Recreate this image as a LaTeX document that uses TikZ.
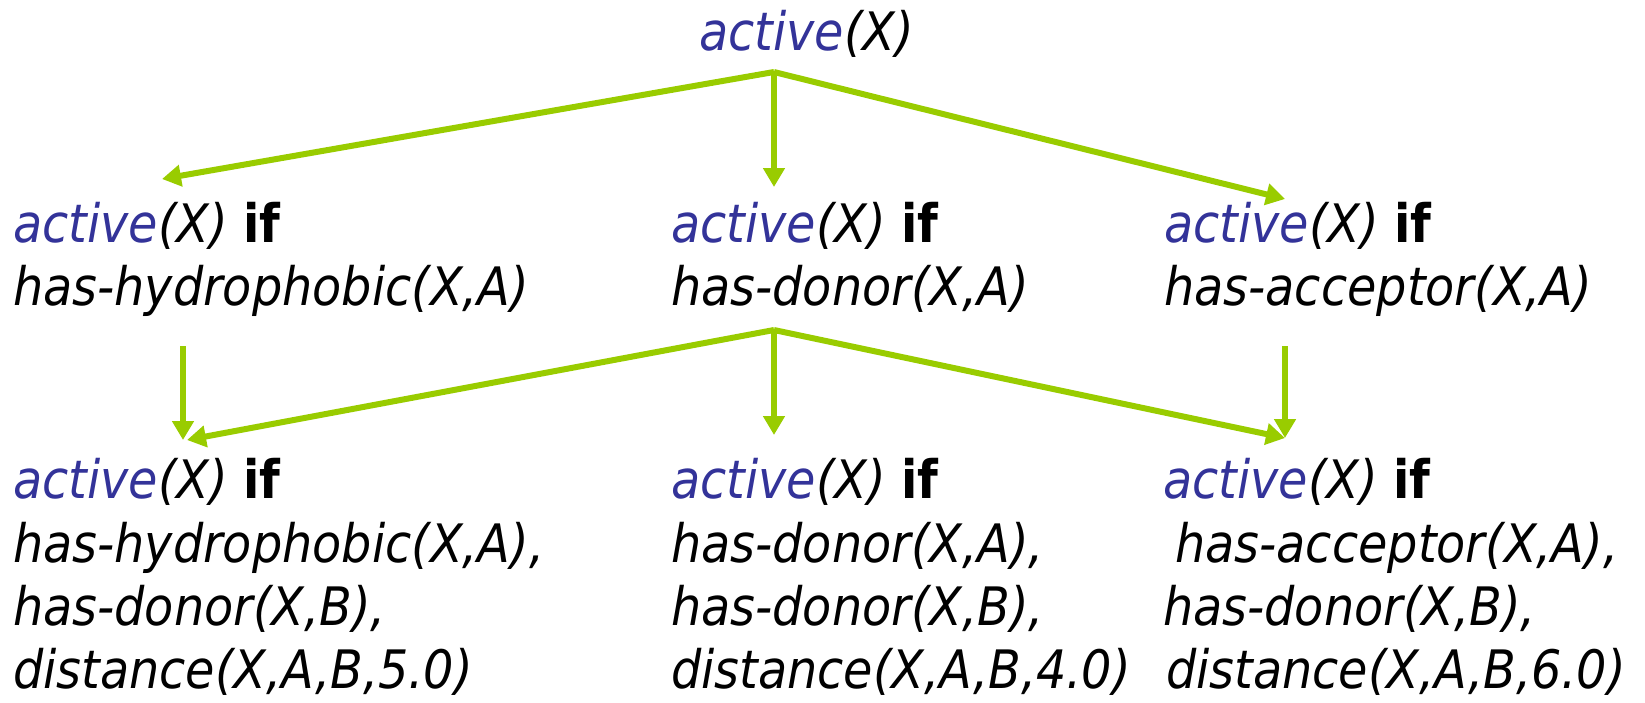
\documentclass[tikz,border=0pt]{standalone}
\usepackage{fontspec}
\setmainfont{DejaVu Sans Condensed}
\usetikzlibrary{arrows.meta}
\definecolor{pblue}{HTML}{333399}
\definecolor{pgreen}{HTML}{99CC00}
\newcommand\actx{{\color{pblue}active}(X)}
\newcommand\actif{\actx{} {\upshape\bfseries if}}
\begin{document}
\begin{tikzpicture}[x=1pt,y=-1pt,
  txt/.style={anchor=base west,inner sep=0pt,font=\fontsize{53}{60}\selectfont\itshape},
  arr/.style={draw=pgreen,line width=6pt,-{Triangle[length=19pt,width=21pt]}}]
\useasboundingbox (0,0) rectangle (1645,702);
% top
\node[txt] (top) at (699,50) {\actx};
% row 2
\node[txt] (l1a) at (13,242) {\actif};
\node[txt] (l1b) at (13,305) {has-hydrophobic(X,A)};
\node[txt] (m1a) at (671,242) {\actif};
\node[txt] (m1b) at (671,305) {has-donor(X,A)};
\node[txt] (r1a) at (1164,242) {\actif};
\node[txt] (r1b) at (1164,305) {has-acceptor(X,A)};
% row 3
\node[txt] (l2a) at (13,498) {\actif};
\node[txt] (l2b) at (13,562) {has-hydrophobic(X,A),};
\node[txt] (l2c) at (13,625) {has-donor(X,B),};
\node[txt] (l2d) at (13,688) {distance(X,A,B,5.0)};
\node[txt] (m2a) at (671,498) {\actif};
\node[txt] (m2b) at (671,562) {has-donor(X,A),};
\node[txt] (m2c) at (671,625) {has-donor(X,B),};
\node[txt] (m2d) at (671,688) {distance(X,A,B,4.0)};
\node[txt] (r2a) at (1163,498) {\actif};
\node[txt] (r2b) at (1175,562) {has-acceptor(X,A),};
\node[txt] (r2c) at (1163,625) {has-donor(X,B),};
\node[txt] (r2d) at (1166,688) {distance(X,A,B,6.0)};
% connector points
\coordinate (hubA) at (774,72);
\coordinate (tL1) at (162,179);
\coordinate (tM1) at (774,187);
\coordinate (tR1) at (1285,199);
\coordinate (hubB) at (774,330);
\coordinate (sL) at (183,346);
\coordinate (tL2) at (183,440);
\coordinate (tL2d) at (187,440);
\coordinate (tM2) at (774,435);
\coordinate (tR2) at (1285,438);
\coordinate (sR) at (1285,346);
% arrows
\draw[arr] (hubA) -- (tL1);
\draw[arr] (hubA) -- (tM1);
\draw[arr] (hubA) -- (tR1);
\draw[arr] (hubB) -- (tL2d);
\draw[arr] (hubB) -- (tM2);
\draw[arr] (hubB) -- (tR2);
\draw[arr] (sL) -- (tL2);
\draw[arr] (sR) -- (tR2);
\end{tikzpicture}
\end{document}
